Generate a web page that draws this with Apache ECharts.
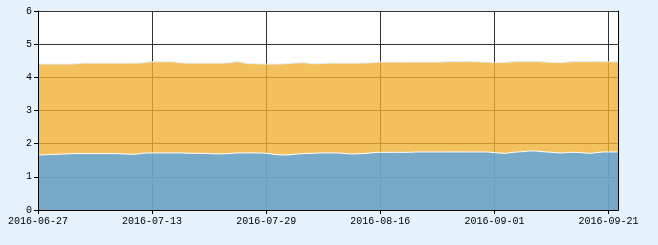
<!DOCTYPE html>
<html>
<head>
<meta charset="utf-8">
<script src="https://cdn.jsdelivr.net/npm/echarts@6/dist/echarts.min.js"></script>
<style>
html,body{margin:0;padding:0;background:#e6f2fb;}
#chart{width:658px;height:245px;}
</style>
</head>
<body>
<div id="chart"></div>
<script>
var categories = [
  '2016-06-27','2016-06-28','2016-06-29','2016-06-30',
  '2016-07-01','2016-07-04','2016-07-05','2016-07-06','2016-07-07','2016-07-08',
  '2016-07-11','2016-07-12','2016-07-13','2016-07-14','2016-07-15',
  '2016-07-18','2016-07-19','2016-07-20','2016-07-21','2016-07-22',
  '2016-07-25','2016-07-26','2016-07-27','2016-07-28','2016-07-29',
  '2016-08-01','2016-08-02','2016-08-03','2016-08-04','2016-08-05',
  '2016-08-08','2016-08-09','2016-08-10','2016-08-11','2016-08-12',
  '2016-08-15','2016-08-16','2016-08-17','2016-08-18','2016-08-19',
  '2016-08-22','2016-08-23','2016-08-24','2016-08-25','2016-08-26',
  '2016-08-29','2016-08-30','2016-08-31','2016-09-01','2016-09-02',
  '2016-09-05','2016-09-06','2016-09-07','2016-09-08','2016-09-09',
  '2016-09-12','2016-09-13','2016-09-14',
  '2016-09-19','2016-09-20','2016-09-21','2016-09-22'
];
var blueValues = [
  1.65,1.67,1.68,1.69,1.70,1.70,1.70,1.70,1.70,1.69,
  1.68,1.71,1.72,1.72,1.72,1.72,1.71,1.71,1.70,1.69,
  1.70,1.72,1.72,1.72,1.71,1.67,1.66,1.68,1.70,1.71,
  1.72,1.72,1.71,1.69,1.70,1.72,1.74,1.74,1.74,1.74,
  1.75,1.75,1.75,1.75,1.75,1.75,1.75,1.75,1.73,1.71,
  1.74,1.76,1.78,1.76,1.74,1.72,1.74,1.73,1.71,1.74,
  1.75,1.75
];
var orangeValues = [
  2.75,2.73,2.72,2.71,2.71,2.73,2.73,2.73,2.73,2.74,
  2.75,2.73,2.75,2.75,2.75,2.72,2.72,2.72,2.73,2.74,
  2.74,2.75,2.70,2.69,2.69,2.73,2.75,2.75,2.74,2.70,
  2.70,2.71,2.72,2.74,2.73,2.72,2.72,2.72,2.72,2.72,
  2.71,2.71,2.71,2.72,2.73,2.73,2.72,2.71,2.72,2.74,
  2.73,2.72,2.70,2.71,2.71,2.73,2.73,2.75,2.77,2.74,
  2.72,2.72
];
var yMin = 0, yMax = 6, yStep = 1;
var labelEvery = 12;

var font = {fontFamily: 'Liberation Mono, DejaVu Sans Mono, monospace', fontSize: 10, color: '#000'};
var chart = echarts.init(document.getElementById('chart'), null, {renderer: 'canvas'});
chart.setOption({
  animation: false,
  backgroundColor: '#e6f2fb',
  grid: {left: 38, right: 40, top: 11, bottom: 35, show: true, backgroundColor: '#ffffff', borderWidth: 0},
  xAxis: [
    {type: 'category', data: categories, boundaryGap: false, position: 'bottom', z: 10,
     axisLine: {show: true, lineStyle: {color: '#000', width: 1}},
     axisTick: {show: true, length: 4, interval: labelEvery - 1, lineStyle: {color: '#000'}},
     axisLabel: Object.assign({interval: labelEvery - 1, margin: 6}, font),
     splitLine: {show: false}},
    {type: 'category', data: categories, boundaryGap: false, position: 'top', z: 10,
     axisLine: {show: true, lineStyle: {color: '#000', width: 1}},
     axisTick: {show: false}, axisLabel: {show: false}, splitLine: {show: false}},
    {type: 'category', data: categories, boundaryGap: false, position: 'bottom', z: 0,
     axisLine: {show: false}, axisTick: {show: false}, axisLabel: {show: false},
     splitLine: {show: true, interval: labelEvery - 1, lineStyle: {color: '#333', width: 1}}}
  ],
  yAxis: [
    {type: 'value', min: yMin, max: yMax, interval: yStep, position: 'left', z: 10,
     axisLine: {show: true, lineStyle: {color: '#000', width: 1}},
     axisTick: {show: true, length: 4, lineStyle: {color: '#000'}},
     axisLabel: Object.assign({margin: 6}, font),
     splitLine: {show: false}},
    {type: 'value', min: yMin, max: yMax, interval: yStep, position: 'right', z: 10,
     axisLine: {show: true, lineStyle: {color: '#000', width: 1}},
     axisTick: {show: false}, axisLabel: {show: false}, splitLine: {show: false}},
    {type: 'value', min: yMin, max: yMax, interval: yStep, position: 'left', z: 0,
     axisLine: {show: false}, axisTick: {show: false}, axisLabel: {show: false},
     splitLine: {show: true, lineStyle: {color: '#333', width: 1}}}
  ],
  series: [
    {type: 'line', name: 'A', stack: 'total', data: blueValues, smooth: true, symbol: 'none',
     xAxisIndex: 0, yAxisIndex: 0, z: 2,
     lineStyle: {color: '#ffffff', width: 1},
     areaStyle: {color: '#70a5c5', opacity: 0.95}},
    {type: 'line', name: 'B', stack: 'total', data: orangeValues, smooth: true, symbol: 'none',
     xAxisIndex: 0, yAxisIndex: 0, z: 2,
     lineStyle: {color: '#e4f1fa', width: 1},
     areaStyle: {color: '#f1b032', opacity: 0.78}}
  ]
});
</script>
</body>
</html>
